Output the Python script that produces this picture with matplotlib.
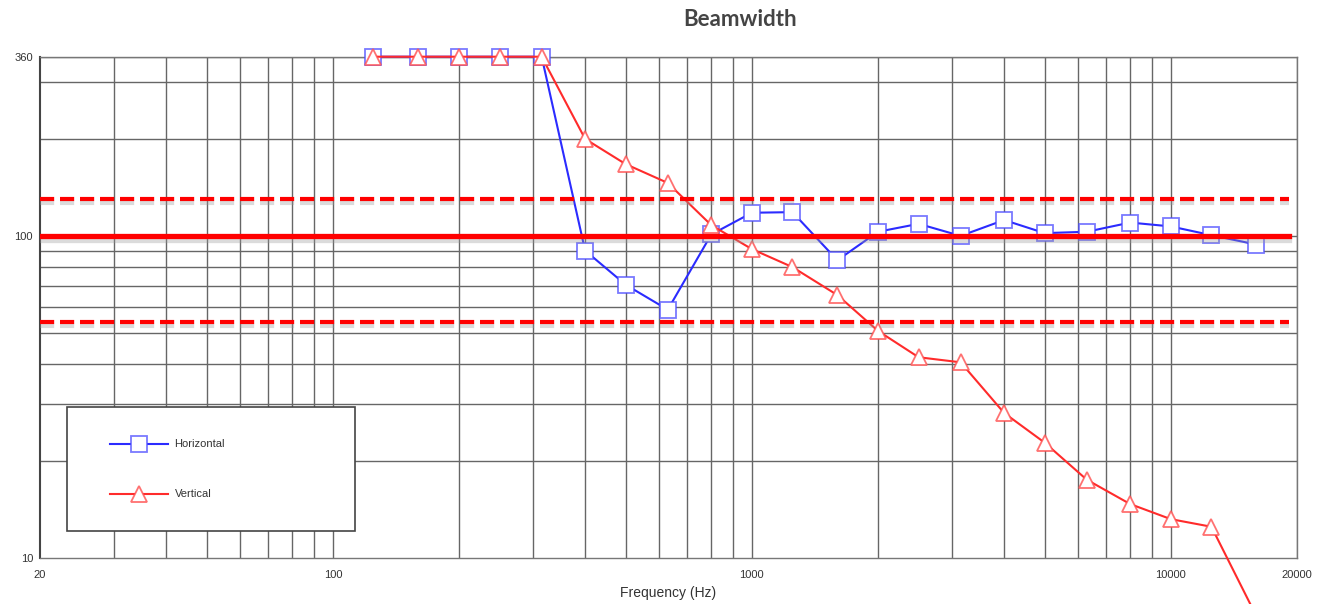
import matplotlib
matplotlib.use("Agg")
import matplotlib.pyplot as plt
import matplotlib.patheffects as pe
from matplotlib.patches import Rectangle

# third-octave band centres
freqs = [125, 160, 200, 250, 315, 400, 500, 630, 800, 1000, 1250, 1600,
         2000, 2500, 3150, 4000, 5000, 6300, 8000, 10000, 12500, 16000]

# beamwidth in degrees
horizontal = [360, 360, 360, 360, 360, 90, 70.5, 59, 101, 118, 118.5, 84,
              103, 109, 100, 112, 102, 103, 110, 107, 100.5, 94]
vertical = [360, 360, 360, 360, 360, 200, 167, 146, 108, 91, 80, 65.5,
            50.7, 42, 40.5, 28.2, 22.8, 17.5, 14.7, 13.2, 12.5, 6.6]

nominal = 100
upper_limit = 130
lower_limit = 54

x_ticks = [20, 100, 1000, 10000, 20000]
y_ticks = [10, 100, 360]

fig = plt.figure(figsize=(13.39, 6.04), dpi=100)
ax = fig.add_axes([0.0299, 0.0762, 0.9387, 0.8299])

ax.set_xscale("log")
ax.set_yscale("log")
ax.set_xlim(20, 20000)
ax.set_ylim(10, 360)

# grid: 1..9 per decade
xgrid = [v * m for m in (10, 100, 1000) for v in range(1, 10)] + [10000, 20000]
xgrid = [g for g in xgrid if 20 < g <= 20000]
ygrid = [20, 30, 40, 50, 60, 70, 80, 90, 100, 200, 300, 360]
for g in xgrid:
    ax.axvline(g, color="#666666", lw=1, zorder=1)
for g in ygrid:
    ax.axhline(g, color="#666666", lw=1, zorder=1)

ax.plot(freqs, horizontal, color="#2b2bff", lw=1.5, marker="s", ms=11.5,
        mfc="white", mec=(0.3, 0.3, 1.0, 0.75), mew=1.3, zorder=3,
        label="Horizontal", clip_on=False)
ax.plot(freqs, vertical, color="#ff2b2b", lw=1.5, marker="^", ms=12,
        mfc="white", mec=(1.0, 0.3, 0.3, 0.8), mew=1.3, zorder=3,
        label="Vertical", clip_on=False)

shadow = [pe.SimpleLineShadow(offset=(0, -3), shadow_color="#999999", alpha=0.35),
          pe.Normal()]
ax.axhline(nominal, xmax=0.994, color="#ff0000", lw=3.8, zorder=4,
           path_effects=shadow)
for lim in (upper_limit, lower_limit):
    ax.axhline(lim, xmax=0.994, color="#ff0000", lw=3, dashes=(3.4, 1.4),
               zorder=4, path_effects=shadow)

for s in ax.spines.values():
    s.set_color("#777777")
    s.set_linewidth(1)
ax.spines["left"].set_color("#444444")
ax.spines["left"].set_linewidth(1.5)

ax.set_xticks(x_ticks)
ax.set_xticklabels([str(t) for t in x_ticks])
ax.set_yticks(y_ticks)
ax.set_yticklabels([str(t) for t in y_ticks])
ax.minorticks_off()
ax.tick_params(length=0, labelsize=8, colors="#333333", pad=9,
               labelfontfamily="Liberation Sans")
ax.tick_params(axis="y", pad=5)

ax.set_xlabel("Frequency (Hz)", fontsize=10, color="#333333",
              family="Liberation Sans", labelpad=4)
fig.text(0.553, 0.968, "Beamwidth", ha="center", va="center", fontsize=16,
         fontweight="bold", color="#444444", family="Lato")

# legend frame drawn separately, entries placed inside
box = Rectangle((0.0215, 0.0539), 0.229, 0.247, transform=ax.transAxes,
                facecolor="white", edgecolor="#444444", lw=1.2, zorder=5)
ax.add_patch(box)
leg = ax.legend(loc="upper left", bbox_to_anchor=(0.0557, 0.2364),
                frameon=False, prop={"family": "Liberation Sans", "size": 8},
                handlelength=5.2, borderpad=0, labelspacing=3.6,
                handletextpad=0.6, borderaxespad=0, labelcolor="#333333")
leg.set_zorder(6)

fig.savefig("out.png", dpi=100)
